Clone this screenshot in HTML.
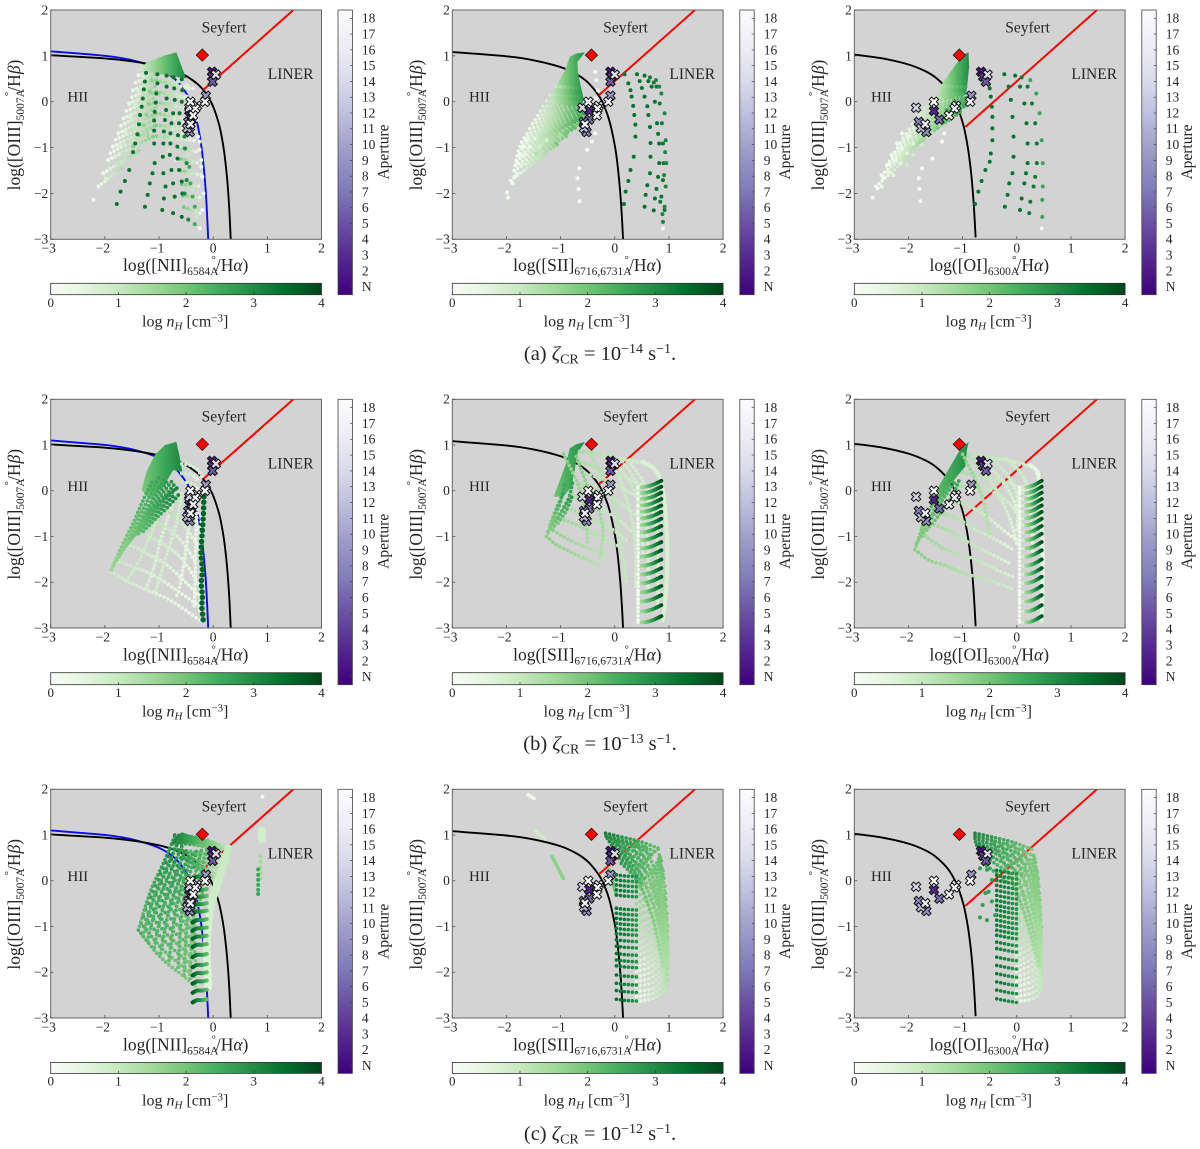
<!DOCTYPE html>
<html lang="en">
<head>
<meta charset="utf-8">
<title>BPT diagrams for three cosmic-ray ionisation rates</title>
<style>
html,body{margin:0;padding:0;background:#fff;width:1200px;height:1149px;overflow:hidden}
svg{display:block}
text{font-family:"Liberation Serif",serif;fill:#262626}
</style>
</head>
<body>
<svg id="fig" xmlns="http://www.w3.org/2000/svg" width="1200" height="1149" viewBox="0 0 1200 1149"><defs id="defs"></defs></svg>
<script>
/* ---------- shared axes and labels ---------- */
const xTickValues=[-3,-2,-1,0,1,2];
const yTickValues=[-3,-2,-1,0,1,2];
const densityTicks=[0,1,2,3,4];
const apertureLabels=['N','2','3','4','5','6','7','8','9','10','11','12','13','14','15','16','17','18'];
const captionLetters=['(a)','(b)','(c)'];
const captionExponents=['−14','−13','−12'];
const ionNames=['NII','SII','OI'];
const ionWavelengths=['6584','6716,6731','6300'];

/* ---------- demarcation curves ---------- */
const kewleyNiiX=[-3,-2,-1.5,-1,-0.7,-0.5,-0.3,-0.2,-0.1,0,0.1,0.15,0.2,0.25,0.28,0.3,0.324];
const kewleyNiiY=[1.014,0.943,0.88,0.775,0.669,0.561,0.398,0.28,0.12,-0.108,-0.459,-0.716,-1.069,-1.583,-2.02,-2.398,-3];
const kauffmannNiiX=[-3,-2,-1.5,-1,-0.7,-0.5,-0.4,-0.3,-0.25,-0.2,-0.15,-0.12,-0.092];
const kauffmannNiiY=[1.1,1.002,0.906,0.719,0.487,0.191,-0.056,-0.443,-0.733,-1.14,-1.75,-2.288,-3];
const kewleySiiX=[-3,-2,-1.5,-1,-0.7,-0.5,-0.3,-0.2,-0.1,0,0.05,0.1,0.13,0.153];
const kewleySiiY=[1.083,0.99,0.904,0.755,0.594,0.422,0.139,-0.085,-0.414,-0.95,-1.367,-1.973,-2.49,-3];
const kewleyOiX=[-3,-2.5,-2,-1.7,-1.5,-1.3,-1.2,-1.1,-1,-0.95,-0.9,-0.85,-0.82,-0.79,-0.76];
const kewleyOiY=[1.027,0.948,0.812,0.672,0.528,0.302,0.133,-0.101,-0.45,-0.698,-1.025,-1.478,-1.844,-2.32,-2.96];
const seyfertLinerX=[[-0.18,1.48],[-0.295,1.48],[-0.95,1.48]];
const seyfertLinerY=[[0.26,2],[0.14,2],[-0.55,2]];

/* ---------- observed apertures and nucleus ---------- */
const apertureValue=[1,3,5,2,6,7,8,9,11,13,14,15,16,16,17,17,18];
const apertureY=[0.654,0.545,0.436,-0.2,-0.39,-0.44,-0.66,0.13,-0.58,-0.13,0.59,-0.09,-0.49,-0.15,0,-0.3,0];
const apertureNii=[-0.02,-0.02,-0.01,-0.44,-0.4,-0.46,-0.43,-0.135,-0.48,-0.44,0.05,-0.3,-0.42,-0.33,-0.15,-0.37,-0.42];
const apertureSii=[-0.08,-0.06,-0.08,-0.47,-0.47,-0.57,-0.52,-0.08,-0.57,-0.6,0,-0.3,-0.55,-0.32,-0.12,-0.33,-0.49];
const apertureOi=[-0.66,-0.62,-0.57,-1.53,-1.43,-1.81,-1.67,-0.84,-1.77,-1.86,-0.54,-1.12,-1.69,-1.15,-0.86,-1.25,-1.53];
const nucleusX=[-0.2,-0.43,-1.06];
const nucleusY=[1.017,1.017,1.017];

/* ---------- panel a1 : [NII], 1e-14 ---------- */
const a1SheetX=[-1.4,-1.23,-0.92,-0.68,-0.58,-0.5,-0.86,-1.23];
const a1SheetY=[0.69,0.85,1,1.08,0.76,0.51,0.58,0.65];
const a1SheetN=[0.8,3.1];
const a1RowN=[[0.25,1.8],[0.25,1.8],[0.25,1.8],[0.25,1.8],[0.25,1.8],[0.25,1.8],[0.25,1.6],[0.25,1.4],[0.3,1.7],[0.3,1.7],[0.3,1.7],[0.3,1.7],[0.3,1.7],[0.3,1.5],[1.8,0.3],[1.8,0.3],[1.8,0.3],[1.8,0.3],[1.8,0.3],[1.7,0.3],[2,0.3],[2,0.3],[2,0.3],[2,0.3],[2,0.3],[2,0.3]];
const a1RowX=[
[-1.48,-1.05],[-1.55,-1.05],[-1.65,-1.05],[-1.75,-1.05],[-1.85,-1.05],[-1.94,-1.11],[-2.03,-1.35],[-2.12,-1.66],
[-1.43,-1.05],[-1.5,-1.05],[-1.6,-1.05],[-1.7,-1.05],[-1.8,-1.05],[-1.9,-1.2],
[-1.05,-0.4],[-1.05,-0.36],[-1.05,-0.33],[-1.05,-0.32],[-1.05,-0.3],[-1.05,-0.28],
[-0.62,-0.26],[-0.6,-0.24],[-0.6,-0.22],[-0.58,-0.2],[-0.56,-0.19],[-0.54,-0.2]];
const a1RowY=[
[0.25,0.47],[-0.04,0.22],[-0.36,0],[-0.69,-0.25],[-0.98,-0.51],[-1.27,-0.76],[-1.56,-1.05],[-1.85,-1.42],
[0.42,0.6],[0.1,0.35],[-0.2,0.1],[-0.52,-0.12],[-0.83,-0.38],[-1.12,-0.68],
[0.47,0.28],[0.22,0.05],[0,-0.2],[-0.25,-0.42],[-0.51,-0.64],[-0.75,-0.85],
[-1,-1.1],[-1.25,-1.35],[-1.5,-1.6],[-1.8,-1.85],[-2.05,-2.1],[-2.3,-2.45]];
const a1TrackN=[0.3,0.7,1.1,1.7,1.5,1.2,0.9,0.6,0.35,0.3,1,3.4,3.4,3.4,3.4,3.4,3.1,2.5];
const a1TrackX=[
[-1.38,-1.48,-1.55,-1.65,-1.75,-1.85,-1.94,-2.03,-2.12,-2.21],
[-1.3,-1.38,-1.45,-1.53,-1.63,-1.72,-1.81,-1.91,-1.98],
[-1.2,-1.28,-1.32,-1.41,-1.51,-1.59,-1.67,-1.75],
[-1.14,-1.17,-1.19,-1.23,-1.29,-1.37,-1.48],
[-0.98,-1.01,-1.05,-1.09,-1.14,-1.2],
[-0.8,-0.82,-0.84,-0.88,-0.92,-0.97],
[-0.65,-0.66,-0.68,-0.71,-0.74,-0.77,-0.83],
[-0.49,-0.49,-0.51,-0.54,-0.57,-0.62,-0.68],
[-0.37,-0.34,-0.31,-0.28,-0.25,-0.22],
[-0.25,-0.22,-0.2,-0.18,-0.2,-0.25],
[-0.46,-0.43,-0.38,-0.34,-0.31],
[-1.24,-1.26,-1.28,-1.3,-1.32,-1.35,-1.37,-1.4,-1.44,-1.48,-1.55,-1.63,-1.71,-1.78],
[-1.03,-1.03,-1.05,-1.06,-1.08,-1.09,-1.09,-1.09,-1.08,-1.12,-1.17,-1.21,-1.26],
[-0.86,-0.86,-0.86,-0.87,-0.89,-0.91,-0.92,-0.93,-0.92,-0.88,-0.91,-0.94],
[-0.73,-0.72,-0.71,-0.74,-0.77,-0.79,-0.79,-0.8,-0.77,-0.74,-0.71,-0.74],
[-0.58,-0.57,-0.58,-0.62,-0.63,-0.65,-0.66,-0.66,-0.63,-0.58,-0.57,-0.58],
[-0.46,-0.53,-0.49,-0.49,-0.52,-0.53],
[-0.34,-0.34,-0.38,-0.42,-0.44]];
const a1TrackY=[
[0.58,0.25,-0.04,-0.36,-0.69,-0.98,-1.27,-1.56,-1.85,-2.14],
[0.58,0.25,-0.04,-0.33,-0.65,-0.94,-1.2,-1.45,-1.67],
[0.51,0.22,-0.04,-0.33,-0.62,-0.87,-1.13,-1.34],
[0.47,0.22,-0.04,-0.29,-0.51,-0.73,-0.98],
[0.44,0.15,-0.11,-0.36,-0.58,-0.76],
[0.44,0.15,-0.11,-0.36,-0.58,-0.76],
[0.44,0.15,-0.11,-0.36,-0.58,-0.8,-1.05],
[0.36,0.11,-0.18,-0.44,-0.69,-0.98,-1.27],
[0.29,-0.04,-0.4,-0.76,-1.05,-1.42],
[-0.87,-1.27,-1.64,-2,-2.36,-2.76],
[-1.16,-1.56,-1.93,-2.29,-2.51],
[0.63,0.44,0.27,0.07,-0.11,-0.29,-0.49,-0.71,-0.91,-1.1,-1.49,-1.73,-1.96,-2.23],
[0.6,0.4,0.18,-0.02,-0.22,-0.41,-0.63,-0.91,-1.34,-1.56,-1.78,-2.03,-2.29],
[0.57,0.33,0.07,-0.18,-0.4,-0.65,-0.91,-1.2,-1.56,-1.85,-2.11,-2.36],
[0.53,0.29,0.04,-0.25,-0.47,-0.69,-0.91,-1.16,-1.49,-1.78,-2.07,-2.43],
[0.49,0.25,0,-0.25,-0.47,-0.73,-0.98,-1.24,-1.49,-1.74,-2,-2.51],
[-2.57,-2,-1.71,-1.34,-1.02,-0.76],
[-2.67,-2.29,-2.07,-1.78,-1.42]];

/* ---------- panel a2 : [SII], 1e-14 ---------- */
const a2SheetX=[-0.55,-0.72,-0.83,-0.92,-1.08,-1.2,-1.05,-0.8,-0.62,-0.57,-0.61,-0.68,-0.69];
const a2SheetY=[1.08,1.05,0.98,0.69,0.33,0.1,-0.05,-0.1,-0.08,0.04,0.25,0.62,0.87];
const a2SheetN=[1,3];
const a2RowN=[[1,2.6],[0.9,2.6],[0.7,2.6],[0.5,2.6],[0.4,2.6],[0.35,2.6],[0.3,2.6],[0.3,2.6],[0.25,2.3],[0.25,1.8],[0.25,1.3],[0.8,2.6],[0.6,2.6],[0.45,2.6],[0.35,2.6],[0.3,2.6],[0.3,2.6],[0.25,2.4],[0.25,2]];
const a2RowX=[
[-1.08,-0.66],[-1.2,-0.64],[-1.32,-0.62],[-1.42,-0.6],[-1.52,-0.59],[-1.62,-0.58],[-1.72,-0.58],[-1.78,-0.58],[-1.82,-0.7],[-1.86,-1],[-1.92,-1.3],
[-1.26,-0.63],[-1.37,-0.61],[-1.47,-0.6],[-1.57,-0.59],[-1.67,-0.58],[-1.75,-0.58],[-1.8,-0.62],[-1.84,-0.85]];
const a2RowY=[
[0.33,0.3],[0.15,0.1],[-0.1,-0.05],[-0.3,-0.15],[-0.48,-0.22],[-0.7,-0.28],[-0.88,-0.32],[-1.08,-0.35],[-1.28,-0.55],[-1.5,-0.9],[-1.72,-1.15],
[0.02,0],[-0.2,-0.1],[-0.39,-0.18],[-0.59,-0.25],[-0.79,-0.3],[-0.98,-0.34],[-1.18,-0.45],[-1.39,-0.72]];
const a2TrackN=[0.2,0.5,0.8,1.3,1.9,0.05,3.4,3.4,3.4,3.3,3.1,0.1];
const a2TrackX=[
[-1.99,-1.97,-1.89,-1.85,-1.8,-1.75,-1.69,-1.63],
[-1.81,-1.74,-1.66,-1.57,-1.48],
[-1.6,-1.51,-1.38,-1.26],
[-1.45,-1.32,-1.17,-1.01],
[-1.08,-0.89,-0.71,-0.57],
[-0.36,-0.34,-0.31,-0.34,-0.34,-0.36,-0.42,-0.51,-0.65,-0.69,-0.67,-0.65],
[0.18,0.25,0.29,0.31,0.34,0.36,0.38,0.38,0.35,0.29,0.25,0.2,0.17],
[0.41,0.46,0.5,0.55,0.6,0.62,0.65,0.66,0.66,0.65,0.6,0.57,0.55],
[0.55,0.62,0.68,0.74,0.78,0.8,0.82,0.82,0.8,0.77,0.74,0.72],
[0.65,0.72,0.77,0.83,0.87,0.89,0.9,0.89,0.86,0.84,0.92],
[0.76,0.82,0.86,0.92,0.94,0.95,0.94,0.92,0.89,0.93,0.91,0.88],
[0.89]];
const a2TrackY=[
[-1.98,-2.09,-1.78,-1.64,-1.34,-1.16,-0.98,-0.84],
[-1.56,-1.38,-1.16,-0.98,-0.8],
[-1.34,-1.16,-0.98,-0.84],
[-1.13,-1.02,-0.87,-0.73],
[-0.91,-0.69,-0.51,-0.33],
[0.65,0.47,0.25,0.07,-0.18,-0.69,-0.87,-1.05,-1.45,-1.67,-1.9,-2.17],
[0.6,0.4,0.25,0.11,-0.09,-0.29,-0.5,-0.76,-1.2,-1.49,-1.73,-1.96,-2.23],
[0.6,0.45,0.3,0.11,-0.1,-0.29,-0.55,-0.9,-1.2,-1.56,-1.82,-2.03,-2.29],
[0.57,0.45,0.33,0,-0.47,-0.7,-0.91,-1.34,-1.64,-1.9,-2.11,-2.37],
[0.53,0.42,0.33,-0.04,-0.47,-0.91,-1.34,-1.71,-2.07,-2.18,-2.36],
[0.47,0.33,0.18,-0.25,-0.84,-1.34,-1.85,-2.29,-2.62,-1.1,-1.6,-2.45],
[-2.76]];

/* ---------- panel a3 : [OI], 1e-14 ---------- */
const a3SheetX=[-0.95,-0.89,-0.88,-0.92,-0.94,-1.2,-1.45,-1.41,-1.11];
const a3SheetY=[1.05,1.08,0.76,0.29,0.15,0.1,0.05,0.34,0.84];
const a3SheetN=[1.2,3];
const a3RowN=[[1.2,2.6],[1,2.6],[0.8,2.6],[0.6,2.6],[0.5,2.6],[0.4,2.6],[0.35,2.5],[0.3,2.4],[0.25,2.2],[0.2,1.7],[0.15,1.2],[0.9,2.6],[0.7,2.6],[0.55,2.6],[0.45,2.6],[0.38,2.5],[0.3,2.4],[0.25,2.1]];
const a3RowX=[
[-1.41,-0.94],[-1.55,-0.94],[-1.7,-0.94],[-1.85,-0.95],[-1.98,-0.96],[-2.1,-1],[-2.2,-1.1],[-2.3,-1.25],[-2.4,-1.45],[-2.5,-1.7],[-2.6,-2],
[-1.62,-0.94],[-1.78,-0.94],[-1.92,-0.95],[-2.04,-0.98],[-2.15,-1.05],[-2.25,-1.18],[-2.35,-1.35]];
const a3RowY=[
[0.34,0.32],[0.1,0.2],[-0.15,0.08],[-0.38,-0.02],[-0.6,-0.1],[-0.8,-0.2],[-1,-0.28],[-1.2,-0.4],[-1.4,-0.55],[-1.6,-0.8],[-1.85,-1.2],
[-0.02,0.14],[-0.27,0.03],[-0.49,-0.06],[-0.7,-0.15],[-0.9,-0.24],[-1.1,-0.34],[-1.3,-0.47]];
const a3TrackN=[0.15,0.35,0.6,0.9,1.4,2.6,2.6,0.05,3.4,3.4,3.4,3.3,2.6,0.1];
const a3TrackX=[
[-2.66,-2.57,-2.47,-2.39,-2.31,-2.21,-2.12],
[-2.49,-2.37,-2.24,-2.12,-2],
[-2.28,-2.15,-2.03,-1.91],
[-2.03,-1.91,-1.75,-1.63],
[-1.72,-1.57,-1.41,-1.26],
[-1.35,-1.14,-0.92],
[-1.29,-1.11,-0.92],
[-1.34,-1.38,-1.56,-1.75,-1.81,-1.8,-1.78],
[-0.5,-0.48,-0.46,-0.45,-0.45,-0.45,-0.48,-0.5,-0.58,-0.65,-0.71,-0.77],
[-0.23,-0.15,-0.11,-0.08,-0.06,-0.06,-0.08,-0.14,-0.17,-0.22],
[-0.03,0.06,0.14,0.18,0.2,0.2,0.17,0.14,0.09,0.06],
[0.09,0.2,0.28,0.34,0.37,0.37,0.34,0.31,0.25,0.23],
[0.25,0.36,0.42,0.46,0.48,0.48,0.47,0.47],
[0.46]];
const a3TrackY=[
[-2.09,-1.89,-1.64,-1.38,-1.16,-0.91,-0.69],
[-1.85,-1.53,-1.27,-1.02,-0.76],
[-1.6,-1.34,-1.13,-0.91],
[-1.38,-1.16,-0.95,-0.76],
[-0.8,-0.65,-0.51,-0.36],
[-0.36,-0.22,-0.07],
[-0.18,-0.04,0.09],
[-0.69,-0.87,-1.24,-1.45,-1.67,-1.9,-2.17],
[0.29,0.11,-0.11,-0.33,-0.58,-0.84,-1.13,-1.31,-1.49,-1.73,-1.96,-2.23],
[0.6,0.33,0.04,-0.33,-0.76,-1.2,-1.56,-1.78,-2.03,-2.29],
[0.57,0.33,-0.04,-0.47,-0.91,-1.34,-1.56,-1.78,-2.11,-2.36],
[0.53,0.33,-0.04,-0.47,-0.91,-1.34,-1.64,-1.85,-2.18,-2.43],
[0.47,0.18,-0.25,-0.84,-1.34,-1.85,-2.14,-2.51],
[-2.76]];

/* ---------- panel b1 : [NII], 1e-13 ---------- */
const b1SheetX=[-0.68,-0.62,-0.57,-0.74,-0.92,-1.17,-1.32,-1.23,-1.08,-0.89];
const b1SheetY=[1.07,0.75,0.42,0.45,0.09,-0.2,0.02,0.42,0.78,1];
const b1SheetN=[1.9,3.1];
const b1RowN=[[0.9,0.3],[1,0.3],[1,0.3],[1.1,0.3],[1.2,0.3],[1.3,0.3],[1.3,0.3],[0.9,0.5],[1,0.4],[1,0.4],[0.8,0.8],[0.5,0.5],[1.6,2.6],[1.7,2.7],[1.8,2.9],[2,3.1],[2.2,3.2],[1.65,2.65],[1.75,2.8],[1.9,3],[2.1,3.15],[2.4,3.2],[0.9,0.9],[0.7,0.7],[0.4,0.4],[0.3,0.3]];
const b1RowX=[
[-1.88,-1.6,-1.23,-0.8,-0.25],[-1.81,-1.48,-1.11,-0.68,-0.25],[-1.6,-1.23,-0.86,-0.49,-0.25],[-1.35,-1.05,-0.68,-0.43,-0.25],
[-1.11,-0.8,-0.55,-0.31],[-0.86,-0.62,-0.43,-0.25],[-0.68,-0.49,-0.31,-0.22],
[-0.58,-0.43,-0.28,-0.2],[-0.58,-0.4,-0.25],[-0.57,-0.4,-0.26],
[-0.58,-0.68,-0.83,-0.98,-1.08],[-0.4,-0.46,-0.52,-0.62,-0.68],
[-1.88,-1.72,-1.48,-1.29,-1.11],[-1.78,-1.57,-1.32,-1.11,-0.92],[-1.63,-1.41,-1.2,-0.98,-0.77],[-1.48,-1.26,-1.05,-0.83,-0.65],[-1.29,-1.05,-0.8,-0.62],
[-1.83,-1.62,-1.4,-1.2,-1.01],[-1.7,-1.49,-1.26,-1.05,-0.84],[-1.55,-1.33,-1.12,-0.9,-0.71],[-1.38,-1.15,-0.93,-0.72],[-1.18,-0.98,-0.8,-0.62],
[-1,-1.2,-1.4,-1.6],[-0.75,-0.95,-1.1,-1.25],[-0.3,-0.32,-0.33,-0.35],[-0.22,-0.22,-0.22,-0.25]];
const b1RowY=[
[-1.77,-1.97,-2.17,-2.39,-2.83],[-1.51,-1.66,-1.84,-2.17,-2.53],[-1.15,-1.37,-1.62,-2.02,-2.31],[-0.86,-1.08,-1.37,-1.73,-2.1],
[-0.64,-0.86,-1.15,-1.59],[-0.42,-0.64,-0.93,-1.29],[-0.13,-0.42,-0.71,-1],
[0.59,0.56,0.45,0.27],[0.38,0.35,0.2],[0.2,0.15,0.02],
[-0.06,-0.71,-1.29,-1.88,-2.24],[-0.2,-0.86,-1.44,-2.1,-2.31],
[-1.73,-1.29,-0.71,-0.2,0.24],[-1.51,-1.11,-0.6,-0.16,0.24],[-1.22,-0.89,-0.49,-0.13,0.2],[-1,-0.71,-0.42,-0.13,0.09],[-0.89,-0.6,-0.31,-0.06],
[-1.6,-1.2,-0.65,-0.18,0.28],[-1.36,-1,-0.54,-0.14,0.22],[-1.1,-0.8,-0.45,-0.13,0.15],[-0.94,-0.65,-0.36,-0.09],[-0.5,-0.22,-0.05,0.1],
[-0.5,-1.1,-1.6,-1.97],[-0.3,-1,-1.7,-2.17],[-0.4,-1.1,-1.8,-2.55],[-0.5,-1.2,-1.9,-2.7]];
const b1BandN=[[3.6,3.6]];
const b1BandX=[[-0.17,-0.18,-0.2,-0.22,-0.22,-0.2,-0.22,-0.2,-0.21,-0.19,-0.18]];
const b1BandY=[[-0.13,-0.49,-0.86,-1.22,-1.44,-1.73,-2.02,-2.31,-2.53,-2.75,-2.9]];

/* ---------- panel b2 : [SII], 1e-13 ---------- */
const b2SheetX=[-0.55,-0.71,-0.83,-0.9,-1.01,-1.13,-0.95,-0.8,-0.74,-0.69];
const b2SheetY=[1.07,1.02,0.93,0.6,0.24,-0.13,-0.13,0.09,0.45,0.82];
const b2SheetN=[2,3];
const b2RowN=[[0.1,0.1],[0.9,0.7],[1,0.8],[1.3,1],[1.8,1.3],[1.4,0.7],[1.4,0.6],[1.8,1.2],[1.7,1.1],[1.6,1],[1.5,0.9],[1.4,0.8],[1.7,2.6],[1.8,2.8],[1.9,2.9],[1.8,2.7],[1.85,2.8],[1.7,1.4],[1,0.8],[0.8,0.7],[1.3,0.6],[1.4,0.8]];
const b2RowX=[
[0.43,0.43,0.43,0.43,0.43],[0.09,0.34,0.49,0.58,0.62,0.62],[-0.22,0.06,0.22,0.34,0.39,0.39],[-0.46,-0.22,-0.03,0.09,0.15,0.22],[-0.71,-0.52,-0.34,-0.22,-0.28],
[-0.65,-0.34,0.03,0.4,0.77],[-0.68,-0.28,0.09,0.49,0.89],
[-1.26,-1.08,-0.89,-0.71,-0.49,-0.3],[-1.2,-0.95,-0.71,-0.4,-0.12],[-1.08,-0.77,-0.46,-0.15,0.09],[-0.95,-0.65,-0.34,-0.03,0.22],[-0.83,-0.52,-0.22,0.09,0.34],
[-1.26,-1.14,-1.01,-0.92],[-1.23,-1.05,-0.86,-0.77],[-1.05,-0.89,-0.77],
[-1.2,-1.08,-0.95],[-1.15,-1,-0.83],[-0.95,-0.7,-0.55,-0.5],[-0.1,0.22,0.42,0.5,0.53],[0.25,0.5,0.65,0.78,0.8,0.8],[-0.6,-0.1,0.3,0.75],[-0.65,-0.2,0.2,0.45]];
const b2RowY=[
[0.02,-0.71,-1.44,-2.17,-2.9],[0.71,0.31,-0.2,-0.78,-1.44,-2.17],[0.78,0.35,-0.2,-0.78,-1.44,-2.1],[0.82,0.31,-0.2,-0.86,-1.44,-2.02],[0.75,0.16,-0.27,-0.86,-1.51],
[0.86,0.82,0.71,0.64,0.49],[0.64,0.49,0.35,0.13,-0.2],
[-1,-1.18,-1.29,-1.4,-1.51,-1.62],[-0.82,-1,-1.15,-1.29,-1.44],[-0.6,-0.71,-0.89,-1.08,-1.22],[-0.35,-0.49,-0.67,-0.86,-1.08],[-0.06,-0.24,-0.42,-0.64,-0.93],
[-1,-0.64,-0.27,0.16],[-0.89,-0.57,-0.2,0.24],[-0.71,-0.42,-0.06],
[-0.75,-0.4,-0.05],[-0.85,-0.5,-0.13],[0.8,0.2,-0.4,-1.2],[0.75,0.3,-0.2,-0.8,-1.5],[0.66,0.25,-0.2,-0.9,-1.6,-2.5],[0.4,0.2,-0.05,-0.3],[0.15,-0.05,-0.35,-0.6]];
const b2BandN=[[0.7,0.7]];
const b2BandX=[[0.52,0.77,0.89,0.95,0.97,0.95,0.89]];
const b2BandY=[[0.64,0.42,0.02,-0.71,-1.44,-2.17,-2.83]];
const b2ArcX=[0.5,0.58,0.7,0.86];
const b2ArcShape=[0,0.01,0.05,0.14];
const b2ArcY=[0.08,-0.05,-0.18,-0.32,-0.46,-0.6,-0.75,-0.91,-1.08,-1.26,-1.44,-1.64,-1.83,-2.02,-2.22,-2.42,-2.64,-2.88];
const b2ArcN=[1.6,3.9];
const b2ArcTailX=[0.43,0.5];
const b2ArcTailN=[0.1,1.6];

/* ---------- panel b3 : [OI], 1e-13 ---------- */
const b3SheetX=[-0.89,-0.92,-0.95,-1.11,-1.29,-1.51,-1.63,-1.41,-1.23,-1.05];
const b3SheetY=[1.07,0.89,0.53,0.31,0.02,-0.35,-0.27,0.16,0.53,0.89];
const b3SheetN=[2,3];
const b3RowN=[[0.1,0.1],[1.8,0.8],[1.6,0.7],[1.5,0.6],[1.4,0.5],[1.3,0.4],[1.2,0.6],[1.3,0.5],[1.1,0.5],[1.7,2.3],[1.8,2.5],[1.9,2.7],[1.75,2.4],[1.85,2.6],[1.7,1.2],[1,0.6],[0.9,0.6],[1.4,0.6],[1.4,0.7]];
const b3RowX=[
[0.05,0.05,0.05,0.05,0.05],
[-1.88,-1.6,-1.35,-1.05,-0.77,-0.49,-0.06],[-1.75,-1.41,-1.11,-0.74,-0.37,-0.06],[-1.6,-1.23,-0.86,-0.49,-0.12],[-1.41,-1.11,-0.74,-0.37,-0.06],[-1.23,-0.92,-0.55,-0.25,0],
[-0.86,-0.43,-0.06,0.31,0.4],[-0.89,-0.55,-0.31,-0.12,0],[-0.65,-0.31,-0.06,0.06],
[-1.88,-1.81,-1.69,-1.54],[-1.85,-1.63,-1.41,-1.23],[-1.66,-1.41,-1.2,-1.05],
[-1.75,-1.6,-1.45,-1.3],[-1.75,-1.5,-1.3,-1.14],[-1,-0.75,-0.6,-0.5],[-0.45,-0.15,0.02,0],[-0.2,0.1,0.22,0.28,0.3],[-1,-0.55,-0.1,0.3],[-1.1,-0.6,-0.2,0]];
const b3RowY=[
[0.02,-0.71,-1.44,-2.17,-2.9],
[-1.29,-1.53,-1.62,-1.77,-1.88,-1.97,-2.15],[-0.93,-1.22,-1.37,-1.51,-1.73,-1.88],[-0.71,-0.89,-1.15,-1.37,-1.59],[-0.49,-0.6,-0.86,-1.08,-1.29],[-0.24,-0.31,-0.57,-0.86,-1.08],
[0.82,0.71,0.64,0.49,0.27],[0.75,0.31,-0.13,-0.64,-1.15],[0.71,0.27,-0.2,-0.71],
[-1.29,-1.04,-0.6,-0.27],[-1.15,-0.71,-0.27,0.16],[-0.86,-0.49,-0.13,0.27],
[-1,-0.62,-0.2,0.1],[-0.8,-0.42,-0.07,0.2],[0.8,0.2,-0.3,-1],[0.72,0.3,-0.2,-0.9],[0.7,0.35,-0.1,-0.8,-1.5],[0.4,0.3,0.15,-0.1],[0.1,0.05,-0.2,-0.5]];
const b3BandN=[[0.5,0.5]];
const b3BandX=[[0.25,0.38,0.42,0.46,0.48,0.47,0.46]];
const b3BandY=[[0.56,0.42,0.09,-0.71,-1.44,-2.17,-2.83]];
const b3ArcX=[0.18,0.24,0.33,0.46];
const b3ArcShape=[0,0.01,0.05,0.14];
const b3ArcY=[0.08,-0.05,-0.18,-0.32,-0.46,-0.6,-0.75,-0.91,-1.08,-1.26,-1.44,-1.64,-1.83,-2.02,-2.22,-2.42,-2.64,-2.88];
const b3ArcN=[1.6,3.9];
const b3ArcTailX=[0.05,0.18];
const b3ArcTailN=[0.1,1.6];

/* ---------- panel c1 : [NII], 1e-12 ---------- */
const c1SheetX=[-0.58,-0.71,-0.74,-0.31,0.06,0.28,0.06,-0.31];
const c1SheetY=[1.06,0.95,0.82,0.78,0.64,0.71,0.84,0.96];
const c1SheetN=[3.2,1.2];
const c1RowN=[[2.9,2.2],[2.8,2.2],[2.7,2.2],[2.5,2.2],[2.3,2],[2.5,1.7],[2.6,1.9],[2.7,2],[2.7,2],[2.8,2],[2.8,2],[3,2.2],[3.2,1.1],[3.1,1.1],[2.9,1.1],[2.7,1.1],[2.9,2.2],[2.8,2.2],[2.6,2.2],[2.4,2.1],[2.5,1.8],[2.6,1.9],[2.7,2],[2.7,2],[2.8,2],[2.9,2.1],[3,1.1],[2.8,1.1],[2.7,1.1]];
const c1RowX=[
[-0.71,-0.92,-1.17,-1.38],[-0.58,-0.8,-1.05,-1.23],[-0.46,-0.65,-0.83,-0.98],[-0.31,-0.46,-0.58,-0.65],[-0.12,-0.25,-0.37,-0.43],
[-1.38,-0.98,-0.62,-0.31],[-1.29,-0.92,-0.58,-0.31],[-1.2,-0.83,-0.52,-0.31],[-1.11,-0.74,-0.46,-0.31],[-1.01,-0.68,-0.4,-0.31],[-0.92,-0.62,-0.37,-0.25],[-0.83,-0.52,-0.31,-0.18],
[-0.71,-0.31,0.06,0.28],[-0.74,-0.31,0.06,0.25],[-0.62,-0.25,0.06,0.2],[-0.46,-0.18,0.06,0.12],
[-0.65,-0.86,-1.11,-1.3],[-0.52,-0.72,-0.94,-1.1],[-0.38,-0.55,-0.7,-0.82],[-0.22,-0.35,-0.47,-0.54],
[-1.33,-0.95,-0.6,-0.31],[-1.25,-0.87,-0.55,-0.31],[-1.15,-0.78,-0.49,-0.31],[-1.06,-0.71,-0.43,-0.31],[-0.97,-0.65,-0.38,-0.28],[-0.87,-0.57,-0.34,-0.22],
[-0.8,-0.3,0.1,0.24],[-0.6,-0.22,0.08,0.17],[-0.35,-0.1,0.05,0.08]];
const c1RowY=[
[0.97,0.38,-0.27,-1.08],[0.75,0.16,-0.57,-1.4],[0.53,-0.06,-0.71,-1.66],[0.64,0.02,-0.71,-1.95],[0.67,0.09,-0.71,-2.17],
[-1.08,-1.66,-2.02,-2.31],[-0.78,-1.29,-1.66,-1.95],[-0.49,-1,-1.33,-1.59],[-0.24,-0.67,-1,-1.22],[0.02,-0.38,-0.71,-0.86],[0.27,-0.09,-0.42,-0.57],[0.53,0.16,-0.13,-0.31],
[1,0.95,0.82,0.71],[0.82,0.78,0.64,0.49],[0.64,0.53,0.38,0.27],[0.42,0.31,0.13,0.02],
[0.85,0.27,-0.42,-1.24],[0.64,0.05,-0.64,-1.53],[0.58,-0.02,-0.71,-1.8],[0.66,0.05,-0.71,-2.06],
[-0.93,-1.48,-1.84,-2.13],[-0.63,-1.15,-1.5,-1.77],[-0.36,-0.83,-1.17,-1.4],[-0.11,-0.52,-0.86,-1.04],[0.15,-0.23,-0.56,-0.7],[0.4,0.03,-0.27,-0.44],
[0.7,0.62,0.5,0.4],[0.5,0.42,0.26,0.15],[0.3,0.18,0,-0.1]];
const c1BandN=[[1,0.6],[0.8,0.8]];
const c1BandX=[[0.28,0.18,0.06,-0.03,-0.09,-0.12,-0.11,-0.09],[0.9,0.9]];
const c1BandY=[[0.71,0.31,-0.13,-0.49,-0.93,-1.44,-1.88,-2.31],[1.09,0.91]];
const c1ArcX=[-0.38,-0.3,-0.2,-0.12];
const c1ArcShape=[-0.05,0,0,0.02];
const c1ArcY=[0.09,-0.06,-0.2,-0.35,-0.51,-0.67,-0.86,-1.04,-1.22,-1.4,-1.62,-1.84,-2.02,-2.2,-2.4,-2.61];
const c1ArcN=[3.7,2.2];
const c1TrackN=[0.15,1.5,2.6];
const c1TrackX=[[0.91],[0.87,0.87,0.87,0.87,0.87],[0.83,0.83,0.83,0.83,0.83,0.83]];
const c1TrackY=[[1.84],[0.54,0.42,0.29,0.16,0.05],[0.25,0.13,0.02,-0.09,-0.2,-0.29]];

/* ---------- panel c2 : [SII], 1e-12 ---------- */
const c2RowN=[[0.3,1.4],[0.3,1.5],[0.4,1.6],[0.4,1.7],[0.6,1.8],[0.8,1.9],[1,2],[1.2,2],[1.4,2.1],[1.6,2.2],[1.8,2.2],[2,2.3],[3.2,2.1],[3,2.2],[2.9,2.2],[2.8,2.3],[2.8,2.3],[2.6,1.4],[2.4,1.3],
[0.3,1.4],[0.35,1.5],[0.4,1.6],[0.5,1.7],[0.7,1.8],[0.9,1.9],[1.1,2],[1.3,2],[1.5,2.1],[1.7,2.2],[2.5,1.3],[2.3,1.3],[2.2,1.4],[3.1,2.1],[3,2.2],[2.9,2.2],[2.8,2.3]];
const c2RowX=[
[0.4,0.71,0.92,0.98],[0.4,0.71,0.92,0.98],[0.4,0.71,0.92,0.98],[0.4,0.71,0.92,0.98],[0.4,0.71,0.92,0.98],[0.4,0.71,0.92,0.97],[0.4,0.71,0.89,0.95],[0.4,0.71,0.89,0.93],[0.4,0.68,0.86,0.89],[0.4,0.68,0.83,0.86],[0.4,0.65,0.8,0.83],[0.34,0.55,0.74,0.82],
[-0.17,0.15,0.46,0.83],[-0.14,0.15,0.46,0.71],[-0.06,0.15,0.43,0.62],[0.03,0.22,0.4,0.55],[0.12,0.28,0.43],
[0.03,0.4,0.71,0.89],[0.28,0.62,0.86,0.97],
[0.4,0.71,0.92,0.98],[0.4,0.71,0.92,0.98],[0.4,0.71,0.92,0.98],[0.4,0.71,0.92,0.98],[0.4,0.71,0.92,0.97],[0.4,0.71,0.9,0.96],[0.4,0.71,0.89,0.94],[0.4,0.7,0.87,0.91],[0.4,0.68,0.85,0.87],[0.4,0.66,0.81,0.84],
[0.15,0.5,0.8,0.93],[0.4,0.7,0.9,0.98],[0.55,0.78,0.93,0.99],
[-0.16,0.15,0.46,0.77],[-0.1,0.15,0.44,0.66],[-0.01,0.18,0.42,0.58],[0.08,0.25,0.42,0.5]];
const c2RowY=[
[-2.64,-2.57,-2.39,-2.14],[-2.42,-2.35,-2.1,-1.84],[-2.2,-2.1,-1.8,-1.51],[-1.99,-1.84,-1.51,-1.22],[-1.77,-1.59,-1.22,-0.93],[-1.51,-1.33,-0.93,-0.64],[-1.22,-1.04,-0.64,-0.35],[-0.93,-0.75,-0.35,-0.06],[-0.64,-0.42,-0.06,0.24],[-0.35,-0.13,0.24,0.45],[-0.06,0.16,0.45,0.64],[0.2,0.42,0.64,0.71],
[1.04,0.95,0.86,0.7],[0.93,0.82,0.71,0.53],[0.78,0.64,0.49,0.31],[0.6,0.45,0.27,0.05],[0.38,0.2,-0.02],
[0.86,0.09,-0.86,-1.88],[0.82,0.09,-0.86,-1.88],
[-2.53,-2.46,-2.25,-2],[-2.31,-2.22,-1.95,-1.68],[-2.1,-1.97,-1.65,-1.37],[-1.88,-1.72,-1.37,-1.08],[-1.64,-1.46,-1.08,-0.78],[-1.37,-1.18,-0.78,-0.5],[-1.08,-0.9,-0.5,-0.2],[-0.78,-0.58,-0.2,0.09],[-0.5,-0.28,0.09,0.35],[-0.2,0.02,0.35,0.55],
[0.82,0.09,-0.86,-1.88],[0.82,0.09,-0.86,-1.88],[0.75,0.09,-0.86,-1.6],
[0.98,0.88,0.78,0.62],[0.86,0.73,0.6,0.42],[0.69,0.55,0.38,0.18],[0.49,0.33,0.12,-0.08]];
const c2BandN=[[0.3,0.3],[0.9,0.9],[1.7,1.7],[2,2]];
const c2BandX=[[-1.6,-1.49],[-1.46,-1.3],[-1.16,-1.08,-0.95],[-0.1,-0.05,0.03]];
const c2BandY=[[1.88,1.8],[1.09,0.93],[0.53,0.35,0.05],[0.24,0.02,-0.31]];
const c2ArcX=[0.03,0.15,0.26,0.4];
const c2ArcShape=[0,-0.02,-0.03,-0.04];
const c2ArcY=[0.13,0.02,-0.09,-0.2,-0.31,-0.6,-0.71,-0.82,-0.93,-1.04,-1.15,-1.29,-1.43,-1.59,-1.73,-1.86,-2.06,-2.24,-2.4,-2.59];
const c2ArcN=[3.4,2.9];

/* ---------- panel c3 : [OI], 1e-12 ---------- */
const c3RowN=[[0.3,1.2],[0.3,1.3],[0.4,1.4],[0.4,1.5],[0.6,1.6],[0.8,1.7],[1,1.8],[1.2,1.9],[1.4,1.9],[1.6,2],[1.8,2],[3.1,1.9],[3,2],[2.9,2],[2.8,2.1],[2.8,2.2],[2.5,1.3],[2.3,1.2],
[0.3,1.2],[0.35,1.3],[0.4,1.4],[0.5,1.5],[0.7,1.6],[0.9,1.7],[1.1,1.8],[1.3,1.9],[1.5,1.9],[1.7,2],[2.4,1.3],[2.2,1.2],[2.1,1.3],[3,1.9],[2.95,2],[2.85,2.1]];
const c3RowX=[
[0,0.31,0.44,0.46],[0,0.31,0.43,0.46],[0,0.31,0.43,0.46],[0,0.31,0.43,0.46],[0,0.31,0.43,0.46],[0,0.31,0.42,0.44],[0,0.28,0.4,0.43],[0,0.28,0.38,0.41],[0,0.25,0.36,0.38],[0,0.25,0.34,0.34],[0,0.18,0.3,0.31],
[-0.77,-0.43,-0.06,0.31],[-0.77,-0.43,-0.06,0.25],[-0.74,-0.4,-0.09,0.18],[-0.68,-0.4,-0.12],[-0.62,-0.37,-0.15],
[-0.46,-0.12,0.18,0.4],[-0.18,0.12,0.34,0.46],
[0,0.31,0.44,0.46],[0,0.31,0.43,0.46],[0,0.31,0.43,0.46],[0,0.31,0.43,0.46],[0,0.31,0.42,0.45],[0,0.3,0.41,0.44],[0,0.28,0.39,0.42],[0,0.27,0.37,0.4],[0,0.25,0.35,0.36],[0,0.22,0.32,0.33],
[-0.32,0,0.26,0.43],[-0.05,0.22,0.4,0.46],[0.1,0.3,0.42,0.46],
[-0.77,-0.43,-0.06,0.28],[-0.76,-0.42,-0.08,0.22],[-0.71,-0.4,-0.1,0.1]];
const c3RowY=[
[-2.64,-2.57,-2.39,-2.17],[-2.42,-2.31,-2.1,-1.88],[-2.2,-2.06,-1.8,-1.59],[-1.99,-1.8,-1.51,-1.29],[-1.77,-1.55,-1.22,-1],[-1.51,-1.29,-0.93,-0.71],[-1.22,-1,-0.64,-0.38],[-0.93,-0.71,-0.35,-0.06],[-0.64,-0.42,-0.06,0.2],[-0.35,-0.13,0.24,0.45],[-0.06,0.16,0.45,0.64],
[1.04,0.95,0.84,0.67],[0.93,0.78,0.64,0.45],[0.78,0.6,0.42,0.2],[0.6,0.38,0.16],[0.38,0.16,-0.06],
[0.89,0.09,-0.86,-1.88],[0.82,0.09,-0.86,-1.88],
[-2.53,-2.44,-2.25,-2.03],[-2.31,-2.18,-1.95,-1.73],[-2.1,-1.93,-1.65,-1.44],[-1.88,-1.67,-1.37,-1.14],[-1.64,-1.42,-1.08,-0.85],[-1.37,-1.14,-0.78,-0.55],[-1.08,-0.85,-0.5,-0.22],[-0.78,-0.56,-0.2,0.07],[-0.5,-0.28,0.09,0.33],[-0.2,0.02,0.35,0.55],
[0.85,0.09,-0.86,-1.88],[0.78,0.09,-0.86,-1.7],[0.7,0.09,-0.86,-1.5],
[0.98,0.87,0.74,0.56],[0.85,0.69,0.53,0.32],[0.69,0.49,0.29,0.1]];
const c3ArcX=[-0.37,-0.25,-0.12,0];
const c3ArcShape=[0.03,0,-0.03,-0.05];
const c3ArcY=[0.2,0.09,-0.02,-0.13,-0.24,-0.35,-0.46,-0.57,-0.67,-0.78,-0.89,-1,-1.11,-1.22,-1.37,-1.51,-1.7,-1.88,-2.06,-2.24,-2.42,-2.61];
const c3ArcN=[3.3,2.9];
const c3TrackN=[2.7];
const c3TrackX=[[-0.68,-0.55,-0.46,-0.52,-0.46,-0.4,-0.55,-0.68,-0.63,-0.58]];
const c3TrackY=[[0.27,0.24,0.02,-0.24,-0.45,-0.75,-0.86,-0.8,-0.53,-0.27]];

const meshes=[
[{sx:a1SheetX,sy:a1SheetY,sn:a1SheetN,rn:a1RowN,rx:a1RowX,ry:a1RowY,tn:a1TrackN,tx:a1TrackX,ty:a1TrackY},
 {sx:a2SheetX,sy:a2SheetY,sn:a2SheetN,rn:a2RowN,rx:a2RowX,ry:a2RowY,tn:a2TrackN,tx:a2TrackX,ty:a2TrackY},
 {sx:a3SheetX,sy:a3SheetY,sn:a3SheetN,rn:a3RowN,rx:a3RowX,ry:a3RowY,tn:a3TrackN,tx:a3TrackX,ty:a3TrackY}],
[{sx:b1SheetX,sy:b1SheetY,sn:b1SheetN,rn:b1RowN,rx:b1RowX,ry:b1RowY,bn:b1BandN,bx:b1BandX,by:b1BandY,bw:5.5,bd:'0 5.6'},
 {sx:b2SheetX,sy:b2SheetY,sn:b2SheetN,rn:b2RowN,rx:b2RowX,ry:b2RowY,bn:b2BandN,bx:b2BandX,by:b2BandY,bw:4,ax:b2ArcX,as:b2ArcShape,ay:b2ArcY,an:b2ArcN,aw:3.8,tlx:b2ArcTailX,tln:b2ArcTailN},
 {sx:b3SheetX,sy:b3SheetY,sn:b3SheetN,rn:b3RowN,rx:b3RowX,ry:b3RowY,bn:b3BandN,bx:b3BandX,by:b3BandY,bw:4,ax:b3ArcX,as:b3ArcShape,ay:b3ArcY,an:b3ArcN,aw:3.8,tlx:b3ArcTailX,tln:b3ArcTailN}],
[{sx:c1SheetX,sy:c1SheetY,sn:c1SheetN,rn:c1RowN,rx:c1RowX,ry:c1RowY,bn:c1BandN,bx:c1BandX,by:c1BandY,bw:8,ax:c1ArcX,as:c1ArcShape,ay:c1ArcY,an:c1ArcN,aw:4,tn:c1TrackN,tx:c1TrackX,ty:c1TrackY},
 {rn:c2RowN,rx:c2RowX,ry:c2RowY,bn:c2BandN,bx:c2BandX,by:c2BandY,bw:3.6,ax:c2ArcX,as:c2ArcShape,ay:c2ArcY,an:c2ArcN,aw:3.6,ad:'0 4'},
 {rn:c3RowN,rx:c3RowX,ry:c3RowY,ax:c3ArcX,as:c3ArcShape,ay:c3ArcY,an:c3ArcN,aw:3.6,ad:'0 4',tn:c3TrackN,tx:c3TrackX,ty:c3TrackY}]
];

/* ---------- layout ---------- */
const NS='http://www.w3.org/2000/svg';
const svg=document.getElementById('fig');
const defs=document.getElementById('defs');
const plotLeft=[50.7,452.3,854.3];
const plotWidth=270.8;
const plotTop=[10,399.3,789.3];
const plotHeight=[229.3,228.7,228.7];
const hbarTop=[283.3,672.7,1062.4];
const hbarHeight=[11.4,12,11];
const vbarLeft=[338,739.8,1141.8];
const vbarWidth=14.4;
const captionBase=[360,750,1140];
const greens=['#f7fcf5','#e5f5e0','#c7e9c0','#a1d99b','#74c476','#41ab5d','#238b45','#006d2c','#00441b'];
const purples=['#fcfbfd','#efedf5','#dadaeb','#bcbddc','#9e9ac8','#807dba','#6a51a3','#54278f','#3f007d'];
let gradId=0;

function hexRgb(h){return [parseInt(h.slice(1,3),16),parseInt(h.slice(3,5),16),parseInt(h.slice(5,7),16)];}
function cmap(stops,t){
  t=Math.max(0,Math.min(1,t));
  const p=t*(stops.length-1),i=Math.min(stops.length-2,Math.floor(p)),f=p-i;
  const a=hexRgb(stops[i]),b=hexRgb(stops[i+1]);
  return 'rgb('+a.map((v,k)=>Math.round(v+(b[k]-v)*f)).join(',')+')';
}
function green(n){return cmap(greens,n/4);}
function make(tag,attrs,parent){
  const el=document.createElementNS(NS,tag);
  for(const k in attrs){el.setAttribute(k,attrs[k]);}
  (parent||svg).appendChild(el);
  return el;
}
function smooth(pts){
  if(pts.length<3){return 'M'+pts.map(p=>p[0].toFixed(2)+' '+p[1].toFixed(2)).join('L');}
  let d='M'+pts[0][0].toFixed(2)+' '+pts[0][1].toFixed(2);
  for(let i=0;i<pts.length-1;i++){
    const p0=pts[Math.max(0,i-1)],p1=pts[i],p2=pts[i+1],p3=pts[Math.min(pts.length-1,i+2)];
    d+='C'+(p1[0]+(p2[0]-p0[0])/6).toFixed(2)+' '+(p1[1]+(p2[1]-p0[1])/6).toFixed(2)+' '+
       (p2[0]-(p3[0]-p1[0])/6).toFixed(2)+' '+(p2[1]-(p3[1]-p1[1])/6).toFixed(2)+' '+
       p2[0].toFixed(2)+' '+p2[1].toFixed(2);
  }
  return d;
}
function gradient(x1,y1,x2,y2,n1,n2){
  const id='g'+(gradId++);
  const g=make('linearGradient',{id:id,gradientUnits:'userSpaceOnUse',x1:x1,y1:y1,x2:x2+(x1===x2&&y1===y2?1:0),y2:y2},defs);
  for(let i=0;i<=6;i++){make('stop',{offset:i/6,'stop-color':green(n1+(n2-n1)*i/6)},g);}
  return 'url(#'+id+')';
}

for(let r=0;r<3;r++){
  for(let c=0;c<3;c++){
    const L=plotLeft[c],T=plotTop[r],H=plotHeight[r],W=plotWidth;
    const sx=v=>L+(v+3)/5*W;
    const sy=v=>T+(2-v)/5*H;
    const m=meshes[r][c];
    const panel=make('g',{});
    
    

    const bg=make('rect',{x:L,y:T,width:W,height:H,fill:'#d3d3d3'},panel);
    
    

    const clipId='clip'+r+c;
    const cp=make('clipPath',{id:clipId},defs);
    make('rect',{x:L,y:T,width:W,height:H},cp);
    const plot=make('g',{'clip-path':'url(#'+clipId+')'},panel);
    
    

    /* demarcation curves */
    if(c===0){
      const blue=make('path',{d:smooth(kauffmannNiiX.map((v,i)=>[sx(v),sy(kauffmannNiiY[i])])),fill:'none',stroke:'#0a0aee','stroke-width':1.9},plot);
      
      
    }
    const blackX=[kewleyNiiX,kewleySiiX,kewleyOiX][c];
    const blackY=[kewleyNiiY,kewleySiiY,kewleyOiY][c];
    const black=make('path',{d:smooth(blackX.map((v,i)=>[sx(v),sy(blackY[i])])),fill:'none',stroke:'#000','stroke-width':1.9},plot);
    
    
    const red=make('path',{d:'M'+sx(seyfertLinerX[c][0])+' '+sy(seyfertLinerY[c][0])+'L'+sx(seyfertLinerX[c][1])+' '+sy(seyfertLinerY[c][1]),fill:'none',stroke:'#f00','stroke-width':2},plot);
    
    

    /* solid part of the model mesh */
    if(m.sx){
      const xs=m.sx,ys=m.sy;
      const sheet=make('polygon',{points:xs.map((v,i)=>sx(v).toFixed(2)+','+sy(ys[i]).toFixed(2)).join(' '),fill:gradient(sx(Math.min(...xs)),0,sx(Math.max(...xs)),0,m.sn[0],m.sn[1])},plot);
      
      
    }
    /* dotted model rows, paler rows underneath */
    if(m.rx){
      const order=m.rx.map((_,i)=>i).sort((p,q)=>(m.rn[p][0]+m.rn[p][1])-(m.rn[q][0]+m.rn[q][1]));
      order.forEach(i=>{
        const pts=m.rx[i].map((v,k)=>[sx(v),sy(m.ry[i][k])]);
        const a=pts[0],b=pts[pts.length-1];
        const row=make('path',{d:smooth(pts),fill:'none',stroke:gradient(a[0],a[1],b[0],b[1],m.rn[i][0],m.rn[i][1]),'stroke-width':3.7,'stroke-linecap':'round','stroke-dasharray':'0 4.2'},plot);
        
        
      });
    }
    /* thick model bands */
    if(m.bx){
      m.bx.forEach((xs,i)=>{
        const pts=xs.map((v,k)=>[sx(v),sy(m.by[i][k])]);
        const a=pts[0],b=pts[pts.length-1];
        const attrs={d:smooth(pts),fill:'none',stroke:gradient(a[0],a[1],b[0],b[1],m.bn[i][0],m.bn[i][1]),'stroke-width':m.bw,'stroke-linecap':'round'};
        if(m.bd){attrs['stroke-dasharray']=m.bd;}
        const band=make('path',attrs,plot);
        
        
      });
    }
    /* stacked arcs of the high-density rows */
    if(m.ax){
      m.ay.forEach(y0=>{
        if(m.tlx){
          const tp=[sx(m.tlx[0]),sx(m.tlx[1])],ty=sy(y0);
          const tail=make('path',{d:'M'+tp[0]+' '+ty+'L'+tp[1]+' '+ty,fill:'none',stroke:gradient(tp[0],ty,tp[1],ty,m.tln[0],m.tln[1]),'stroke-width':3.4,'stroke-linecap':'round','stroke-dasharray':'0 3.6'},plot);
          
          
        }
        const pts=m.ax.map((v,k)=>[sx(v),sy(y0+m.as[k])]);
        const a=pts[0],b=pts[pts.length-1];
        const attrs={d:smooth(pts),fill:'none',stroke:gradient(a[0],a[1],b[0],b[1],m.an[0],m.an[1]),'stroke-width':m.aw,'stroke-linecap':'round'};
        if(m.ad){attrs['stroke-dasharray']=m.ad;}
        const arc=make('path',attrs,plot);
        
        
      });
    }
    /* individual model points */
    if(m.tx){
      m.tx.forEach((xs,i)=>{
        xs.forEach((v,k)=>{
          const dot=make('circle',{cx:sx(v).toFixed(2),cy:sy(m.ty[i][k]).toFixed(2),r:2,fill:green(m.tn[i])},plot);
          
          
        });
      });
    }
    /* observed apertures */
    const apX=[apertureNii,apertureSii,apertureOi][c];
    apertureY.forEach((y,i)=>{
      const px=sx(apX[i]),py=sy(y),s=4.7;
      const shape=[[-1,-0.5],[-0.5,-1],[0,-0.5],[0.5,-1],[1,-0.5],[0.5,0],[1,0.5],[0.5,1],[0,0.5],[-0.5,1],[-1,0.5],[-0.5,0]];
      const mark=make('polygon',{points:shape.map(p=>(px+p[0]*s).toFixed(2)+','+(py+p[1]*s).toFixed(2)).join(' '),fill:cmap(purples,1-apertureValue[i]/18),stroke:'#111','stroke-width':1},plot);
      
      
    });
    /* nucleus diamond */
    const dx=sx(nucleusX[c]),dy=sy(nucleusY[c]),ds=6.2;
    const diamond=make('polygon',{points:[dx,dy-ds,dx+ds,dy,dx,dy+ds,dx-ds,dy].join(' '),fill:'#f00',stroke:'#111','stroke-width':0.7},plot);
    
    

    /* region labels */
    const seyfert=make('text',{x:sx(0.2),y:sy(1.51),'text-anchor':'middle','font-size':15.5},panel);
    seyfert.textContent='Seyfert';
    
    
    const liner=make('text',{x:sx(1.43),y:sy(0.49),'text-anchor':'middle','font-size':15.5},panel);
    liner.textContent='LINER';
    
    
    const hii=make('text',{x:sx(-2.5),y:sy(0),'text-anchor':'middle','font-size':15},panel);
    hii.textContent='HII';
    
    

    /* frame */
    const frame=make('rect',{x:L,y:T,width:W,height:H,fill:'none',stroke:'#666','stroke-width':1},panel);
    
    

    /* axis ticks */
    xTickValues.forEach(v=>{
      const t=make('line',{x1:sx(v),x2:sx(v),y1:T+H,y2:T+H-3,stroke:'#555','stroke-width':0.8},panel);
      
      
      const lab=make('text',{x:sx(v)-(v<0?2:0),y:T+H+13.4,'text-anchor':'middle','font-size':13.5},panel);
      lab.textContent=(v<0?'−':'')+Math.abs(v);
      
      
    });
    yTickValues.forEach(v=>{
      const t=make('line',{x1:L,x2:L+3,y1:sy(v),y2:sy(v),stroke:'#555','stroke-width':0.8},panel);
      
      
      const lab=make('text',{x:L-2.4,y:sy(v)+4.4,'text-anchor':'end','font-size':13.5},panel);
      lab.textContent=(v<0?'−':'')+Math.abs(v);
      
      
    });

    /* axis titles */
    const xt=make('text',{x:L+135,y:T+261,'text-anchor':'middle','font-size':17.5},panel);
    xt.innerHTML='log(['+ionNames[c]+']<tspan dy="4" font-size="11.5">'+ionWavelengths[c]+'A</tspan><tspan dx="-7" dy="-12" font-size="11">°</tspan><tspan dy="8">/H</tspan><tspan font-style="italic">α</tspan>)';
    
    
    const yx=L-30.5,yy=T+115;
    const yt=make('text',{x:yx,y:yy,'text-anchor':'middle','font-size':17.5,transform:'rotate(-90 '+yx+' '+yy+')'},panel);
    yt.innerHTML='log([OIII]<tspan dy="4" font-size="11.5">5007A</tspan><tspan dx="-7" dy="-12" font-size="11">°</tspan><tspan dy="8">/H</tspan><tspan font-style="italic">β</tspan>)';
    
    

    /* density colour bar */
    const hT=hbarTop[r],hH=hbarHeight[r];
    const hg=make('linearGradient',{id:'hb'+r+c,x1:0,x2:1,y1:0,y2:0},defs);
    greens.forEach((col,i)=>{make('stop',{offset:i/8,'stop-color':col},hg);});
    const hbar=make('rect',{x:L,y:hT,width:W,height:hH,fill:'url(#hb'+r+c+')',stroke:'#333','stroke-width':0.8},panel);
    
    
    densityTicks.forEach(v=>{
      const px=L+v/4*W;
      const t=make('line',{x1:px,x2:px,y1:hT+hH,y2:hT+hH-2.5,stroke:'#333','stroke-width':0.7},panel);
      
      
      const lab=make('text',{x:px,y:hT+hH+12.2,'text-anchor':'middle','font-size':13},panel);
      lab.textContent=String(v);
      
      
    });
    const dt=make('text',{x:L+134.5,y:hT+hH+32,'text-anchor':'middle','font-size':16},panel);
    dt.innerHTML='log <tspan font-style="italic">n</tspan><tspan font-style="italic" dy="3" font-size="11">H</tspan><tspan dy="-3"> [cm</tspan><tspan dy="-5" font-size="11">−3</tspan><tspan dy="5">]</tspan>';
    
    

    /* aperture colour bar */
    const vL=vbarLeft[c],vH=hT+hH-T;
    const vg=make('linearGradient',{id:'vb'+r+c,x1:0,x2:0,y1:0,y2:1},defs);
    purples.forEach((col,i)=>{make('stop',{offset:i/8,'stop-color':col},vg);});
    const vbar=make('rect',{x:vL,y:T,width:vbarWidth,height:vH,fill:'url(#vb'+r+c+')',stroke:'#444','stroke-width':0.8},panel);
    
    
    const firstY=T+8.3,lastY=T+vH-8,step=(lastY-firstY)/(apertureLabels.length-1);
    apertureLabels.forEach((lab,i)=>{
      const py=lastY-i*step;
      const t=make('line',{x1:vL+vbarWidth,x2:vL+vbarWidth-2.5,y1:py,y2:py,stroke:'#444','stroke-width':0.7},panel);
      
      
      const tx=make('text',{x:vL+vbarWidth+9.5,y:py+4.4,'font-size':13.5,'font-family':lab==='N'?'Liberation Sans':'Liberation Serif'},panel);
      tx.textContent=lab;
      
      
    });
    const ax=vL+vbarWidth+36,ay=T+142;
    const at=make('text',{x:ax,y:ay,'text-anchor':'middle','font-size':15.5,transform:'rotate(-90 '+ax+' '+ay+')'},panel);
    at.textContent='Aperture';
    
    
  }
  /* row caption */
  const cap=make('text',{x:600,y:captionBase[r],'text-anchor':'middle','font-size':20.5});
  cap.innerHTML=captionLetters[r]+'  <tspan font-style="italic">ζ</tspan><tspan dy="3.5" font-size="14">CR</tspan><tspan dy="-3.5"> = 10</tspan><tspan dy="-7" font-size="14">'+captionExponents[r]+'</tspan><tspan dy="7"> s</tspan><tspan dy="-7" font-size="14">−1</tspan><tspan dy="7">.</tspan>';
  
  
}
</script>
</body>
</html>
